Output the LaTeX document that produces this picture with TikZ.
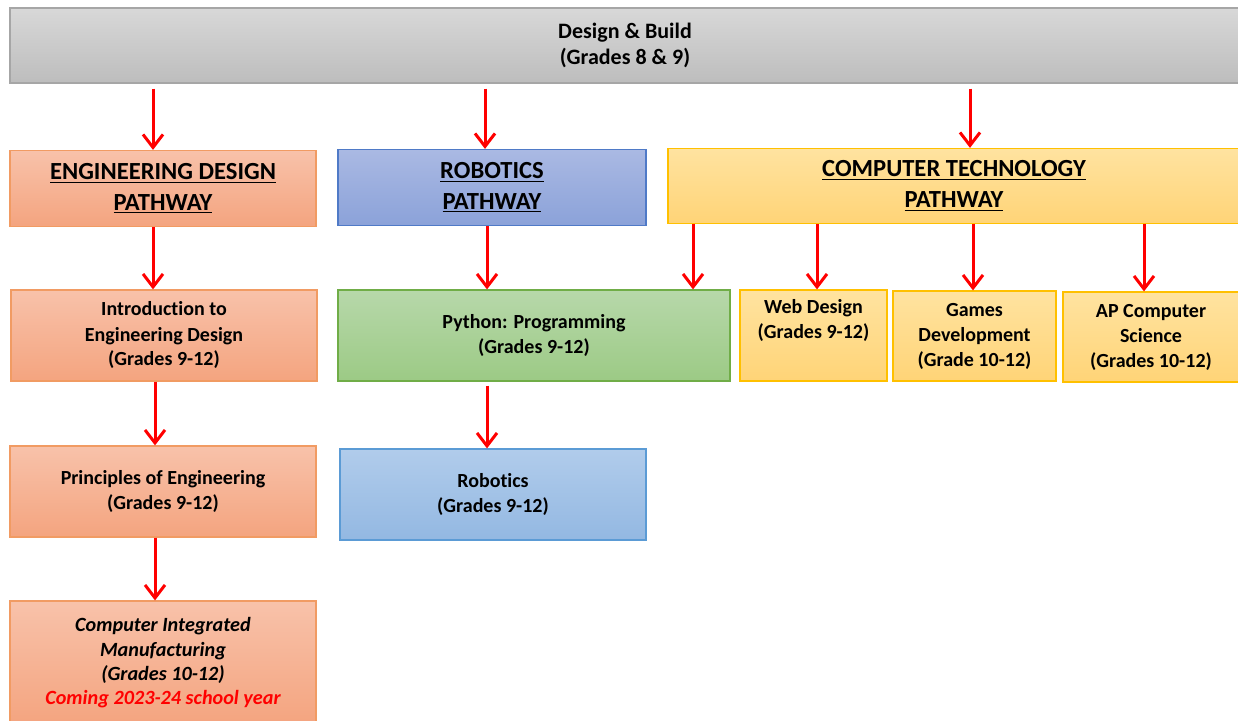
\documentclass[tikz,border=0pt]{standalone}
\usepackage{fontspec}
\setmainfont{Carlito}[Ligatures=NoCommon]
\usetikzlibrary{arrows.meta}

\definecolor{graytop}{HTML}{D8D8D8}
\definecolor{graybot}{HTML}{BDBDBD}
\definecolor{grayline}{HTML}{A6A6A6}
\definecolor{engtop}{HTML}{F8C2AA}
\definecolor{engbot}{HTML}{F4A47F}
\definecolor{engline}{HTML}{F19B63}
\definecolor{robtop}{HTML}{AAB9E3}
\definecolor{robbot}{HTML}{8BA2D9}
\definecolor{robline}{HTML}{4F7AC7}
\definecolor{comptop}{HTML}{FFE3A0}
\definecolor{compbot}{HTML}{FFD477}
\definecolor{compline}{HTML}{FFC000}
\definecolor{pytop}{HTML}{B7D8AA}
\definecolor{pybot}{HTML}{9CCA85}
\definecolor{pyline}{HTML}{70AD47}
\definecolor{bottop}{HTML}{B1CCEB}
\definecolor{botbot}{HTML}{93B8E2}
\definecolor{botline}{HTML}{5B9BD5}

\begin{document}
\begin{tikzpicture}[x=0.5pt,y=-0.5pt,
	box/.style={draw,line width=0.6pt,align=center,inner sep=2pt,font=\bfseries\fontsize{10}{12.5}\selectfont},
	head/.style={font=\bfseries\fontsize{12.3}{15.5}\selectfont},
	graybox/.style={box,draw=grayline,top color=graytop,bottom color=graybot,font=\bfseries\fontsize{11}{13}\selectfont},
	engbox/.style={box,draw=engline,top color=engtop,bottom color=engbot},
	robbox/.style={box,draw=robline,top color=robtop,bottom color=robbot},
	compbox/.style={box,draw=compline,top color=comptop,bottom color=compbot},
	pybox/.style={box,draw=pyline,top color=pytop,bottom color=pybot},
	botbox/.style={box,draw=botline,top color=bottop,bottom color=botbot},
	arr/.style={red,line width=1.5pt,-{Straight Barb[length=6.5pt,width=10pt]}}]
	\useasboundingbox (0,0) rectangle (1238,721);
	
	% top level
	\node[graybox,minimum width=615pt,minimum height=37.5pt] (design) at (625,45.5) {Design \& Build\\(Grades 8 \& 9)};
	
	% pathways
	\node[engbox,head,minimum width=153pt,minimum height=38pt] (engpath) at (163,188.5) {\underline{ENGINEERING DESIGN}\\\underline{PATHWAY}};
	\node[robbox,head,minimum width=154pt,minimum height=38pt] (robpath) at (492,187.5) {\underline{ROBOTICS}\\\underline{PATHWAY}};
	\node[compbox,head,minimum width=286pt,minimum height=37.5pt] (comppath) at (954,186) {\underline{COMPUTER TECHNOLOGY}\\\underline{PATHWAY}};
	
	% courses
	\node[engbox,minimum width=153pt,minimum height=45.5pt] (intro) at (164,335.5) {Introduction to\\Engineering Design\\(Grades 9-12)};
	\node[pybox,minimum width=196pt,minimum height=45.5pt] (python) at (534,335.5) {Python: Programming\\(Grades 9-12)};
	\node[compbox,minimum width=73.5pt,minimum height=45.5pt] (web) at (813.5,335.5) {Web Design\\(Grades 9-12)\\\strut};
	\node[compbox,minimum width=81.5pt,minimum height=45pt] (games) at (974.5,336) {Games\\Development\\(Grade 10-12)};
	\node[compbox,minimum width=88pt,minimum height=45pt] (apcs) at (1151,337) {AP Computer\\Science\\(Grades 10-12)};
	\node[engbox,minimum width=153pt,minimum height=45.5pt] (princ) at (163,491.5) {Principles of Engineering\\(Grades 9-12)};
	\node[botbox,minimum width=153pt,minimum height=45.5pt] (robotics) at (493,494.5) {Robotics\\(Grades 9-12)};
	\node[engbox,font=\bfseries\itshape\fontsize{10.1}{12.2}\selectfont,minimum width=153pt,minimum height=62pt] (cim) at (163,663) {Computer Integrated\\Manufacturing\\(Grades 10-12)\\\textcolor{red}{Coming 2023-24 school year}};
	
	% arrows
	\draw[arr,shorten <=2.5pt] (design.south -| 153,0) -- (engpath.north -| 153,0);
	\draw[arr,shorten <=2.5pt] (design.south -| 485,0) -- (robpath.north -| 485,0);
	\draw[arr,shorten <=2.5pt] (design.south -| 970,0) -- (comppath.north -| 970,0);
	\draw[arr] (engpath.south -| 153,0) -- (intro.north -| 153,0);
	\draw[arr] (robpath.south -| 487,0) -- (python.north -| 487,0);
	\draw[arr] (comppath.south -| 693,0) -- (python.north -| 693,0);
	\draw[arr] (comppath.south -| 817,0) -- (web.north -| 817,0);
	\draw[arr] (comppath.south -| 973,0) -- (games.north -| 973,0);
	\draw[arr] (comppath.south -| 1144,0) -- (apcs.north -| 1144,0);
	\draw[arr] (intro.south -| 155,0) -- (princ.north -| 155,0);
	\draw[arr,shorten <=2pt] (python.south -| 487,0) -- (robotics.north -| 487,0);
	\draw[arr] (princ.south -| 155,0) -- (cim.north -| 155,0);
\end{tikzpicture}
\end{document}
